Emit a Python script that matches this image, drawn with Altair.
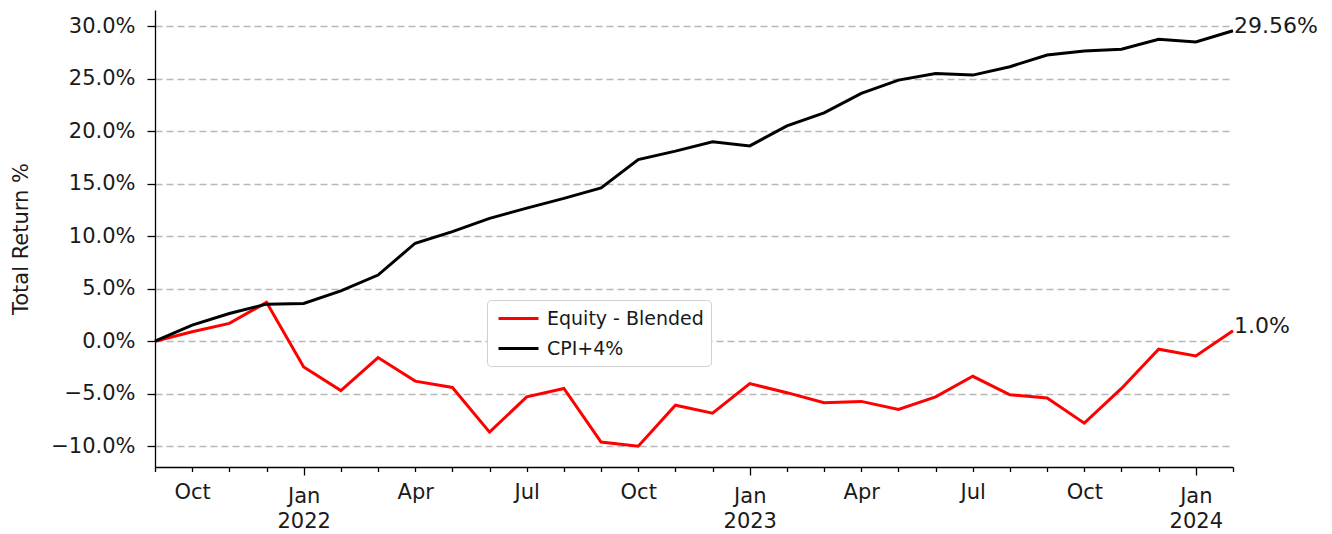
import altair as alt
import pandas as pd

months = ["2021-09", "2021-10", "2021-11", "2021-12", "2022-01", "2022-02", "2022-03",
          "2022-04", "2022-05", "2022-06", "2022-07", "2022-08", "2022-09", "2022-10",
          "2022-11", "2022-12", "2023-01", "2023-02", "2023-03", "2023-04", "2023-05",
          "2023-06", "2023-07", "2023-08", "2023-09", "2023-10", "2023-11", "2023-12",
          "2024-01", "2024-02"]
equity = [0.0, 0.9, 1.7, 3.7, -2.45, -4.7, -1.56, -3.8, -4.4, -8.66, -5.3, -4.5, -9.6, -10.0,
          -6.1, -6.85, -4.04, -4.9, -5.86, -5.73, -6.5, -5.3, -3.34, -5.1, -5.4, -7.8, -4.5,
          -0.76, -1.4, 1.0]
cpi = [0.0, 1.53, 2.64, 3.53, 3.6, 4.8, 6.3, 9.33, 10.44, 11.7, 12.67, 13.6, 14.6, 17.3, 18.1,
       19.0, 18.6, 20.5, 21.75, 23.6, 24.86, 25.5, 25.34, 26.14, 27.25, 27.63, 27.8, 28.75,
       28.5, 29.56]
series_names = ["Equity - Blended", "CPI+4%"]
series_colors = ["#ff0000", "#000000"]
y_ticks = [-10, -5, 0, 5, 10, 15, 20, 25, 30]

rows = []
for i, m in enumerate(months):
    rows.append({"idx": i, "month": m, "series": series_names[0], "value": equity[i], "order": 0})
    rows.append({"idx": i, "month": m, "series": series_names[1], "value": cpi[i], "order": 1})
df = pd.DataFrame(rows)

last = df[df["idx"] == len(months) - 1].copy()
last["label"] = last["value"].map(lambda v: f"{v}%")

ymin = min(equity + cpi)
ymax = max(equity + cpi)
pad = (ymax - ymin) * 0.05
ydom = [ymin - pad, ymax + pad]

month_expr = "(datum.value + 8) % 12"
year_expr = "2021 + floor((datum.value + 8) / 12)"
x_label_expr = (
    f"{month_expr} == 0 ? ['Jan', '' + ({year_expr})] : "
    f"{month_expr} == 3 ? 'Apr' : {month_expr} == 6 ? 'Jul' : {month_expr} == 9 ? 'Oct' : ''"
)

TEXT = "#1a1a1a"

x_enc = alt.X(
    "idx:Q",
    scale=alt.Scale(domain=[0, len(months) - 1], nice=False, zero=False),
    axis=alt.Axis(
        values=list(range(len(months))),
        tickCount=len(months) + 5,
        labelExpr=x_label_expr,
        title=None,
        grid=False,
        tickSize={"condition": {"test": f"{month_expr} == 0", "value": 8}, "value": 4.5},
        labelPadding=10,
        labelLineHeight=25,
        labelBaseline="top",
        labelAlign="center",
        labelOverlap=False,
        labelFlush=False,
    ),
)
y_enc = alt.Y(
    "value:Q",
    scale=alt.Scale(domain=ydom, nice=False, zero=False),
    axis=alt.Axis(
        values=y_ticks,
        tickCount=20,
        labelExpr="format(datum.value, '.1f') + '%'",
        title="Total Return %",
        titlePadding=19,
        grid=True,
        gridDash=[7, 4],
        gridColor="#b8b8b8",
        gridWidth=1.3,
        tickSize=8,
        labelPadding=12,
    ),
)

lines = alt.Chart(df).mark_line(strokeWidth=3).encode(
    x=x_enc,
    y=y_enc,
    color=alt.Color(
        "series:N",
        sort=series_names,
        scale=alt.Scale(domain=series_names, range=series_colors),
        legend=alt.Legend(
            title=None,
            orient="none",
            legendX=332,
            legendY=290,
            fillColor="white",
            strokeColor="#d0d0d0",
            cornerRadius=4,
            padding=7,
            symbolType="M-2,0H2",
            symbolStrokeWidth=3,
            symbolSize=400,
            symbolOffset=13,
            labelOffset=17,
            labelFontSize=19,
            labelLimit=400,
            rowPadding=8,
        ),
    ),
    order="order:Q",
    detail="series:N",
)

labels = alt.Chart(last).mark_text(
    align="left", baseline="alphabetic", dx=1, dy=2, fontSize=22, font="DejaVu Sans", color=TEXT
).encode(
    x="idx:Q",
    y="value:Q",
    text="label:N",
)

chart = alt.layer(lines, labels).properties(
    width=1078,
    height=457,
    autosize=alt.AutoSizeParams(type="none"),
    padding={"left": 147, "top": 2, "right": 91, "bottom": 64},
).configure_view(stroke=None).configure_axis(
    domainColor="black",
    domainWidth=1.3,
    tickColor="black",
    tickWidth=1.3,
    labelColor=TEXT,
    labelFont="DejaVu Sans",
    labelFontSize=21,
    titleFont="DejaVu Sans",
    titleFontSize=21,
    titleFontWeight="normal",
    titleColor=TEXT,
).configure_legend(
    labelFont="DejaVu Sans",
    labelColor=TEXT,
)

chart.save("out.html", embed_options={"renderer": "svg", "actions": False})
